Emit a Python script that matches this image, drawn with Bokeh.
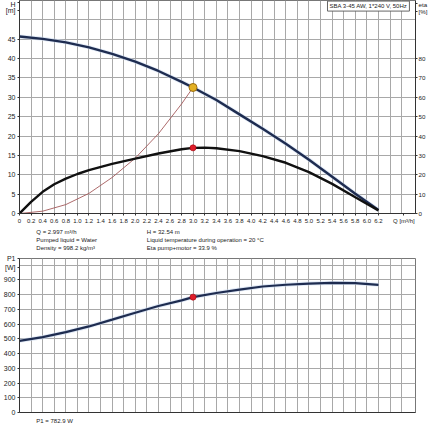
from bokeh.plotting import figure
from bokeh.models import Range1d, LinearAxis, FixedTicker, Label
from bokeh.layouts import column
from bokeh.embed import file_html
from bokeh.resources import INLINE

# ---------------- data ----------------
q_ticks = [0.0, 0.2, 0.4, 0.6, 0.8, 1.0, 1.2, 1.4, 1.6, 1.8, 2.0, 2.2, 2.4, 2.6, 2.8, 3.0,
           3.2, 3.4, 3.6, 3.8, 4.0, 4.2, 4.4, 4.6, 4.8, 5.0, 5.2, 5.4, 5.6, 5.8, 6.0, 6.2]
q_tick_labels = ["0", "0.2", "0.4", "0.6", "0.8", "1.0", "1.2", "1.4", "1.6", "1.8", "2.0",
                 "2.2", "2.4", "2.6", "2.8", "3.0", "3.2", "3.4", "3.6", "3.8", "4.0", "4.2",
                 "4.4", "4.6", "4.8", "5.0", "5.2", "5.4", "5.6", "5.8", "6.0", "6.2"]
q_grid = q_ticks + [6.4, 6.6]
q_title = "Q [m\u00b3/h]"
h_ticks = [0, 5, 10, 15, 20, 25, 30, 35, 40, 45]
h_grid = h_ticks + [50, 55]
h_title = ["H", "[m]"]
eta_ticks = [0, 10, 20, 30, 40, 50, 60, 70, 80]
eta_title = ["eta", "[%]"]
p1_ticks = [0, 100, 200, 300, 400, 500, 600, 700, 800, 900]
p1_grid = p1_ticks + [1000]
p1_title = ["P1", "[W]"]

q_h = [0.0, 0.4, 0.8, 1.2, 1.6, 2.0, 2.4, 2.8, 2.997, 3.4, 3.8, 4.2, 4.6, 5.0, 5.4, 5.8, 6.2]
h_vals = [45.7, 45.1, 44.2, 42.9, 41.2, 39.2, 36.8, 34.0, 32.54, 29.3, 25.6, 21.9, 18.0,
          13.9, 9.5, 5.1, 0.9]

q_eta = [0.0, 0.2, 0.4, 0.6, 0.8, 1.0, 1.2, 1.6, 2.0, 2.4, 2.8, 2.997, 3.2, 3.4, 3.8, 4.2,
         4.6, 5.0, 5.4, 5.8, 6.2]
eta_vals = [0.0, 6.0, 11.2, 15.1, 18.0, 20.4, 22.4, 25.6, 28.3, 31.0, 33.2, 33.9, 34.0, 33.7,
            32.2, 29.6, 26.2, 21.4, 15.3, 8.4, 1.6]

q_sys = [0.0, 0.4, 0.8, 1.2, 1.6, 2.0, 2.4, 2.8, 2.997]
h_sys = [0.0, 0.6, 2.3, 5.2, 9.3, 14.3, 20.6, 28.3, 32.54]

q_p1 = [0.0, 0.4, 0.8, 1.2, 1.6, 2.0, 2.4, 2.8, 2.997, 3.4, 3.8, 4.2, 4.6, 5.0, 5.4, 5.8, 6.2]
p1_vals = [486, 511, 545, 584, 630, 677, 723, 761, 782.9, 811, 834, 855, 867, 875, 879, 878, 866]

duty_q = 2.997
duty_h = 32.54
duty_eta = 33.9
duty_p1 = 782.9

info_left = ["Q = 2.997 m\u00b3/h", "Pumped liquid = Water", "Density = 998.2 kg/m\u00b3"]
info_mid = ["H = 32.54 m", "Liquid temperature during operation = 20 \u00b0C",
            "Eta pump+motor = 33.9 %"]
p1_info = "P1 = 782.9 W"
model_text = "SBA 3-45 AW, 1*240 V, 50Hz"

FONT = "Liberation Sans"
GRID = "#a8a8a8"
AXIS = "#333333"
TXT = "#222222"


def style_axis(ax, size="7px"):
    ax.axis_line_color = AXIS
    ax.major_tick_line_color = AXIS
    ax.major_tick_out = 2
    ax.major_tick_in = 0
    ax.minor_tick_line_color = None
    ax.major_label_text_font = FONT
    ax.major_label_text_font_size = size
    ax.major_label_text_color = TXT
    ax.major_label_standoff = 2


def style_grid(p):
    for g in (p.xgrid[0], p.ygrid[0]):
        g.grid_line_color = GRID
        g.grid_line_width = 1


def text_fig(height):
    f = figure(width=430, height=height, x_range=Range1d(0, 430), y_range=Range1d(0, height),
               x_axis_type=None, y_axis_type=None,
               output_backend="svg", toolbar_location=None,
               min_border_left=0, min_border_right=0, min_border_top=0, min_border_bottom=0)
    f.grid.visible = False
    f.outline_line_color = None
    return f


def lab(p, x, y, text, size="6px", anchor="center_left"):
    p.add_layout(Label(x=x, y=y, text=text, anchor=anchor, text_font=FONT,
                       text_font_size=size, text_color=TXT))


# ---------------- top chart: H and eta ----------------
top = figure(width=430, height=227, x_range=Range1d(0, 6.84), y_range=Range1d(0, 55),
             output_backend="svg", toolbar_location=None,
             min_border_left=18, min_border_right=12, min_border_top=0, min_border_bottom=14)
top.extra_y_ranges = {"eta": Range1d(0, 110)}
top.outline_line_color = "#777777"

x_tick_pos = q_ticks + [6.64]
top.xaxis.ticker = FixedTicker(ticks=x_tick_pos)
top.xaxis.major_label_overrides = dict(zip(x_tick_pos, q_tick_labels + [q_title]))
y_tick_pos = h_ticks + [52.5, 54.6]
top.yaxis.ticker = FixedTicker(ticks=y_tick_pos)
top.yaxis.major_label_overrides = {52.5: h_title[1], 54.6: h_title[0]}
style_axis(top.xaxis[0], size="6px")
style_axis(top.yaxis[0])

eta_tick_pos = eta_ticks + [104.1, 108.2]
eta_axis = LinearAxis(y_range_name="eta", ticker=FixedTicker(ticks=eta_tick_pos),
                      major_label_overrides={104.1: eta_title[1], 108.2: eta_title[0]})
style_axis(eta_axis, size="6.2px")
eta_axis.major_label_standoff = 1
top.add_layout(eta_axis, "right")

top.xgrid.ticker = FixedTicker(ticks=q_grid)
top.ygrid.ticker = FixedTicker(ticks=h_grid)
style_grid(top)

top.line(q_sys, h_sys, line_color="#a4595a", line_width=0.9)
top.line(q_h, h_vals, line_color="#c9d8ee", line_width=4.0, line_alpha=0.6)
top.line(q_h, h_vals, line_color="#1e2c50", line_width=2.4)
top.line(q_eta, eta_vals, y_range_name="eta", line_color="#111111", line_width=2.4)
top.scatter([duty_q], [duty_h], marker="circle", size=8, fill_color="#e3b022",
            line_color="#9a6d10", line_width=1)
top.scatter([duty_q], [duty_eta], y_range_name="eta", marker="circle", size=6,
            fill_color="#e01e2a", line_color="#b0101a", line_width=0.8)

top.add_layout(Label(x=6.735, y=54.85, text=model_text, anchor="top_right",
                     text_font=FONT, text_font_size="6px", text_color=TXT,
                     background_fill_color="white", border_line_color="#666666",
                     border_line_width=1, padding=2))

# ---------------- info text block ----------------
info = text_fig(26)
for i, (a, b) in enumerate(zip(info_left, info_mid)):
    yy = [21.3, 13.7, 5.7][i]
    lab(info, 18.3, yy, a)
    lab(info, 138.3, yy, b)

# ---------------- bottom chart: P1 ----------------
bot = figure(width=430, height=162, x_range=Range1d(0, 6.84), y_range=Range1d(0, 1045),
             output_backend="svg", toolbar_location=None,
             min_border_left=18, min_border_right=12, min_border_top=5, min_border_bottom=3)
bot.outline_line_color = "#777777"
bot.xaxis.ticker = FixedTicker(ticks=[])
p1_tick_pos = p1_ticks + [987.0, 1045.0]
bot.yaxis.ticker = FixedTicker(ticks=p1_tick_pos)
bot.yaxis.major_label_overrides = {987.0: p1_title[1], 1045.0: p1_title[0]}
style_axis(bot.xaxis[0])
style_axis(bot.yaxis[0])
bot.xaxis.major_tick_out = 0
bot.xaxis.major_label_standoff = 0
bot.xgrid.ticker = FixedTicker(ticks=q_grid)
bot.ygrid.ticker = FixedTicker(ticks=p1_grid)
style_grid(bot)

bot.line(q_p1, p1_vals, line_color="#c9d8ee", line_width=4.0, line_alpha=0.6)
bot.line(q_p1, p1_vals, line_color="#1e2c50", line_width=2.2)
bot.scatter([duty_q], [duty_p1], marker="circle", size=6, fill_color="#e01e2a",
            line_color="#b0101a", line_width=0.8)

foot = text_fig(15)
lab(foot, 18.3, 10, p1_info)

layout = column(top, info, bot, foot, spacing=0)
open("out.html", "w").write(file_html(layout, INLINE))
